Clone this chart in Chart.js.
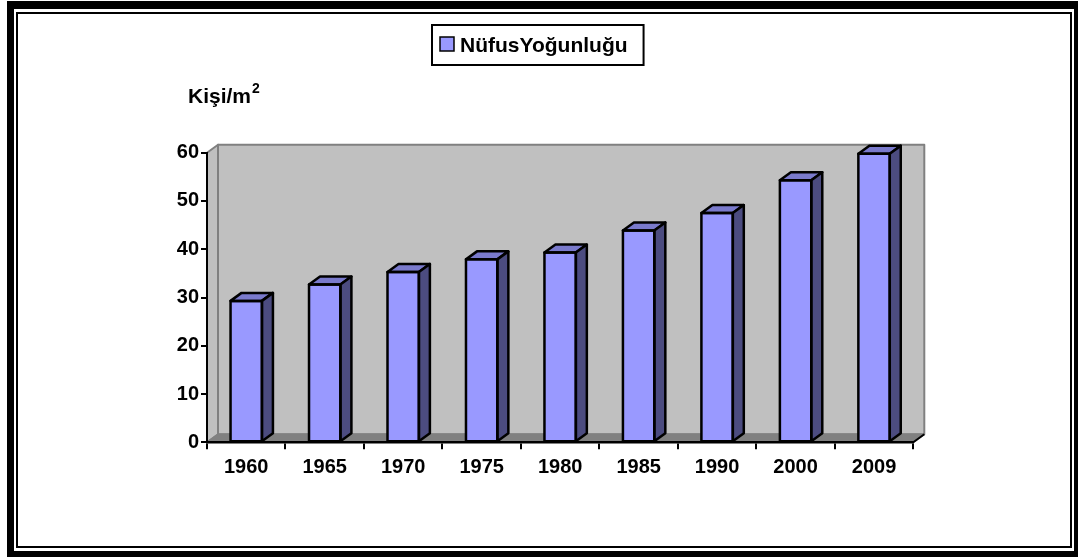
<!DOCTYPE html>
<html>
<head>
<meta charset="utf-8">
<script src="https://cdn.jsdelivr.net/npm/chart.js@4.4.1/dist/chart.umd.min.js"></script>
<style>
  html,body{margin:0;padding:0;background:#fff;}
  #wrap{position:relative;width:1078px;height:557px;}
</style>
</head>
<body>
<div id="wrap"><canvas id="c" width="1078" height="557"></canvas></div>
<script>
/* data */
const years   = ['1960','1965','1970','1975','1980','1985','1990','2000','2009'];
const density = [29.3, 32.7, 35.3, 37.9, 39.3, 43.9, 47.5, 54.3, 59.8];
const seriesName = 'NüfusYoğunluğu';
const unitText = 'Kişi/m';
const unitPow  = '2';

const FONT = '"Liberation Sans", Arial, sans-serif';
const FRONT = '#9999FF', TOP = '#7A7ACC', SIDE = '#4C4C80';
const DX = 11, DY = -8;   // depth offset of the 3d box

function poly(ctx, pts, fill, stroke, lw){
  ctx.beginPath();
  pts.forEach((p,i)=> i ? ctx.lineTo(p[0],p[1]) : ctx.moveTo(p[0],p[1]));
  ctx.closePath();
  if(fill){ ctx.fillStyle=fill; ctx.fill(); }
  if(stroke){ ctx.strokeStyle=stroke; ctx.lineWidth=lw; ctx.lineJoin='round'; ctx.stroke(); }
}

/* ---------- frame + walls + floor ---------- */
const walls = {
  id:'walls',
  beforeDraw(c){
    const {ctx, chartArea:a} = c;
    ctx.save();
    // double border round the whole thing
    ctx.fillStyle='#000'; ctx.fillRect(7,1,1071,556);
    ctx.fillStyle='#fff'; ctx.fillRect(14,9,1060,542);
    ctx.fillStyle='#000'; ctx.fillRect(16,12,1056,536);
    ctx.fillStyle='#fff'; ctx.fillRect(18,14,1052,532);

    const L=a.left, R=a.right, T=a.top, B=a.bottom;
    // back wall
    poly(ctx, [[L+DX,T+DY],[R+DX,T+DY],[R+DX,B+DY],[L+DX,B+DY]], '#C0C0C0', '#808080', 2);
    // side wall
    poly(ctx, [[L,T],[L+DX,T+DY],[L+DX,B+DY],[L,B]], '#C0C0C0', '#808080', 2);
    // floor
    poly(ctx, [[L,B],[L+DX,B+DY],[R+DX,B+DY],[R,B]], '#808080', '#808080', 1.5);
    ctx.beginPath(); ctx.moveTo(R,B); ctx.lineTo(R+DX,B+DY);
    ctx.strokeStyle='#000'; ctx.lineWidth=2; ctx.stroke();
    ctx.restore();
  },
  /* top and side faces of each column */
  afterDatasetsDraw(c){
    const ctx=c.ctx;
    ctx.save();
    c.getDatasetMeta(0).data.forEach(bar=>{
      const {x,y,base,width} = bar.getProps(['x','y','base','width'], true);
      const l=x-width/2, r=x+width/2;
      poly(ctx, [[l,y],[r,y],[r+DX,y+DY],[l+DX,y+DY]], TOP, '#000', 2.5);
      poly(ctx, [[r,y],[r+DX,y+DY],[r+DX,base+DY],[r,base]], SIDE, '#000', 2.5);
      ctx.beginPath(); ctx.rect(l,y,width,base-y);
      ctx.strokeStyle='#000'; ctx.lineWidth=2.5; ctx.stroke();
    });
    ctx.restore();
  },
  /* legend box and unit label */
  afterDraw(c){
    const ctx=c.ctx;
    ctx.save();
    ctx.font='bold 21px '+FONT;
    ctx.textBaseline='alphabetic';
    const tw=ctx.measureText(seriesName).width;
    const bx=432, by=25, bh=40, bw=8+14+6+tw+16;
    ctx.fillStyle='#fff'; ctx.fillRect(bx,by,bw,bh);
    ctx.strokeStyle='#000'; ctx.lineWidth=2; ctx.strokeRect(bx,by,bw,bh);
    ctx.fillStyle=c.data.datasets[0].backgroundColor;
    ctx.fillRect(440,37,14,14);
    ctx.lineWidth=1.5; ctx.strokeRect(440,37,14,14);
    ctx.fillStyle='#000';
    ctx.fillText(seriesName, 460, 52);

    ctx.fillText(unitText, 188, 103);
    const uw=ctx.measureText(unitText).width;
    ctx.font='bold 14px '+FONT;
    ctx.fillText(unitPow, 188+uw+1, 93);
    ctx.restore();
  }
};

new Chart(document.getElementById('c'), {
  type:'bar',
  data:{
    labels: years,
    datasets:[{
      label: seriesName,
      data: density,
      backgroundColor: FRONT,
      borderColor:'#000',
      borderWidth:0,
      barPercentage:0.4,
      categoryPercentage:1
    }]
  },
  options:{
    responsive:false,
    animation:false,
    layout:{ padding:{ left:147, right:164.7, top:152.7, bottom:54.7 } },
    plugins:{ legend:{display:false}, tooltip:{enabled:false} },
    scales:{
      x:{
        offset:true,
        grid:{ offset:true, drawOnChartArea:false, drawTicks:true, tickLength:7, color:'#000', lineWidth:2 },
        border:{ display:true, color:'#000', width:2.5 },
        ticks:{ color:'#000', font:{ family:FONT, size:20, weight:'bold' }, padding:6, maxRotation:0 },
        afterFit(s){ s.height=60; }
      },
      y:{
        min:0, max:60,
        grid:{ drawOnChartArea:false, drawTicks:true, tickLength:6, color:'#000', lineWidth:2 },
        border:{ display:true, color:'#000', width:2 },
        ticks:{ stepSize:10, color:'#000', font:{ family:FONT, size:20, weight:'bold' }, padding:2 },
        afterFit(s){ s.width=60; }
      }
    }
  },
  plugins:[walls]
});
</script>
</body>
</html>
